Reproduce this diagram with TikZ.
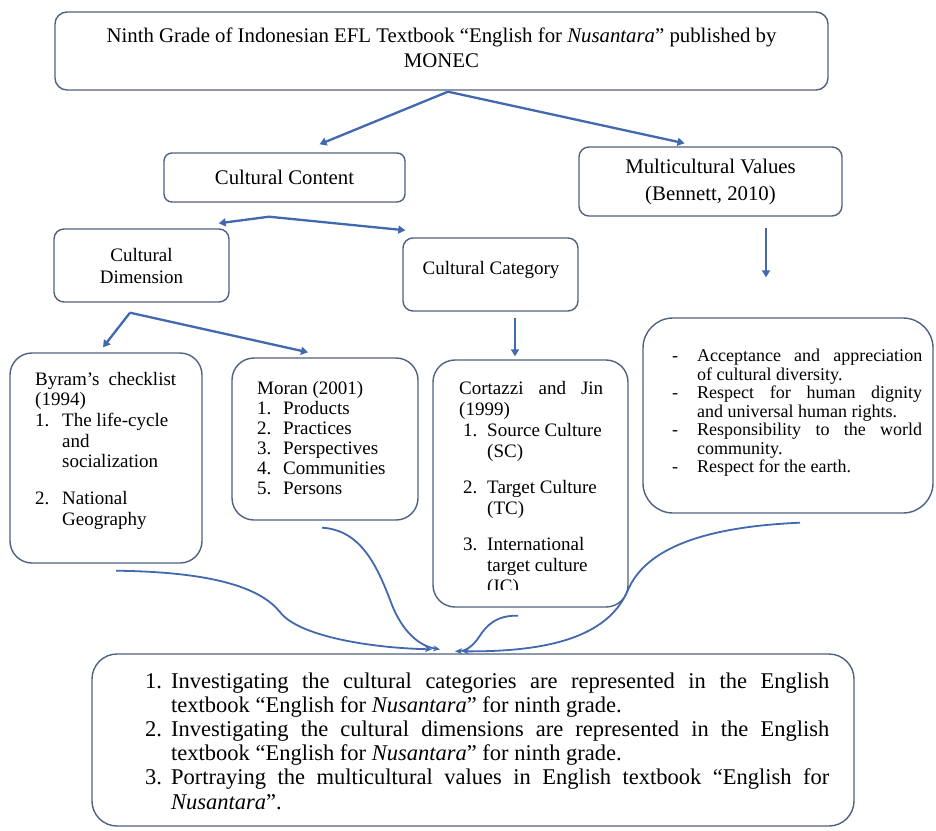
\documentclass[tikz,border=0pt]{standalone}
\usepackage{fontspec}
\setmainfont{Liberation Serif}
\usetikzlibrary{arrows.meta,calc}
\definecolor{boxc}{RGB}{80,98,130}
\definecolor{arrc}{RGB}{66,104,176}
\begin{document}
\begin{tikzpicture}[x=1pt,y=-1pt,
  rbox/.style={draw=boxc, line width=1.4pt, rounded corners=#1, inner sep=0pt},
  rbox/.default=10pt,
  arr/.style={draw=arrc, line width=2.3pt, -{Triangle[length=7pt,width=8pt]}},
  curv/.style={draw=arrc, line width=1.8pt, -{Stealth[length=7pt,width=6pt]}},
  big/.style={font=\fontsize{20.8}{25}\selectfont},
  mid/.style={font=\fontsize{19}{22}\selectfont},
  txt/.style={inner sep=0pt, anchor=base west}]
\useasboundingbox (0,0) rectangle (936,830);
\fill[white] (0,0) rectangle (936,830);

% boxes
\node[rbox=12pt, minimum width=773pt, minimum height=78pt] (top) at (441.5,51) {};
\node[big, align=center, inner sep=0pt] (toptxt) at (441.5,47.5) {Ninth Grade of Indonesian EFL Textbook “English for \textit{Nusantara}” published by\\MONEC};
\node[rbox=8pt, minimum width=241pt, minimum height=49pt, big] (cc) at (284.5,177.5) {Cultural Content};
\node[rbox=10pt, minimum width=263pt, minimum height=69pt, font=\fontsize{20.8}{27}\selectfont, align=center] (mv) at (710.5,181.5) {Multicultural Values\\(Bennett, 2010)};
\node[rbox=10pt, minimum width=175pt, minimum height=73pt, mid, align=center] (cd) at (141.5,265.5) {Cultural\\Dimension};
\node[rbox=10pt, minimum width=175pt, minimum height=73pt] (cat) at (490.5,274.5) {};
\node[mid, inner sep=0pt] (cattxt) at (491,270) {Cultural Category};

\node[rbox=22pt, minimum width=192pt, minimum height=210pt] (by) at (106,458) {};
\node[rbox=22pt, minimum width=186pt, minimum height=162pt] (mo) at (325,439) {};
\node[rbox=22pt, minimum width=195pt, minimum height=247pt] (co) at (530.5,483.5) {};
\node[rbox=30pt, minimum width=290pt, minimum height=195pt] (ml) at (788,415.5) {};
\node[rbox=25pt, minimum width=762pt, minimum height=172pt] (bt) at (473,740) {};

% texts
\node[txt] (byt) at (35,385) {\parbox[t]{170pt}{\fontsize{19}{20.7}\selectfont
\makebox[141pt][s]{Byram’s checklist}\\
(1994)\\
\makebox[27pt][l]{1.}The life-cycle\\
\hspace*{27pt}and\\
\hspace*{27pt}socialization\\[16pt]
\makebox[27pt][l]{2.}National\\
\hspace*{27pt}Geography}};

\node[txt] (mot) at (257,394.5) {\parbox[t]{170pt}{\fontsize{19}{20}\selectfont
Moran (2001)\\
\makebox[26pt][l]{1.}Products\\
\makebox[26pt][l]{2.}Practices\\
\makebox[26pt][l]{3.}Perspectives\\
\makebox[26pt][l]{4.}Communities\\
\makebox[26pt][l]{5.}Persons}};

\begin{scope}
\clip (433,360) rectangle (628,589);
\node[txt] (cot) at (459,394.5) {\parbox[t]{170pt}{\fontsize{19}{21}\selectfont
\makebox[144pt][s]{Cortazzi and Jin}\\
(1999)\\
\hspace*{4pt}\makebox[24pt][l]{1.}Source Culture\\
\hspace*{28pt}(SC)\\[15pt]
\hspace*{4pt}\makebox[24pt][l]{2.}Target Culture\\
\hspace*{28pt}(TC)\\[15pt]
\hspace*{4pt}\makebox[24pt][l]{3.}International\\
\hspace*{28pt}target culture\\
\hspace*{28pt}(IC)}};
\end{scope}

\node[txt] (mlt) at (672,361.5) {\parbox[t]{260pt}{\fontsize{18}{18.5}\selectfont
\makebox[25pt][l]{-}\makebox[225pt][s]{Acceptance and appreciation}\\
\hspace*{25pt}of cultural diversity.\\
\makebox[25pt][l]{-}\makebox[225pt][s]{Respect for human dignity}\\
\hspace*{25pt}and universal human rights.\\
\makebox[25pt][l]{-}\makebox[225pt][s]{Responsibility to the world}\\
\hspace*{25pt}community.\\
\makebox[25pt][l]{-}Respect for the earth.}};

\node[txt] (btt) at (145,688) {\parbox[t]{700pt}{\fontsize{22.5}{24.2}\selectfont
\makebox[26pt][l]{1.}\makebox[658pt][s]{Investigating the cultural categories are represented in the English}\\
\hspace*{26pt}textbook “English for \textit{Nusantara}” for ninth grade.\\
\makebox[26pt][l]{2.}\makebox[658pt][s]{Investigating the cultural dimensions are represented in the English}\\
\hspace*{26pt}textbook “English for \textit{Nusantara}” for ninth grade.\\
\makebox[26pt][l]{3.}\makebox[658pt][s]{Portraying the multicultural values in English textbook “English for}\\
\hspace*{26pt}\textit{Nusantara}”.}};

% straight arrows
\coordinate (s1) at ($(top.south)+(6.5,1)$);
\draw[arr] (s1) -- ($(cc.north)+(35,-8)$);
\draw[arr] (s1) -- ($(mv.north)+(-26,-3)$);
\coordinate (s2) at ($(cc.south)+(-15.5,14)$);
\draw[arr] (s2) -- ($(cd.north east)+(-11,-5)$);
\draw[arr] (s2) -- ($(cat.north west)+(3,-7)$);
\coordinate (s3) at ($(cd.south)+(-11.5,10)$);
\draw[arr] (s3) -- ($(by.north)+(-3,-5)$);
\draw[arr] (s3) -- ($(mo.north)+(-17,-5)$);
\coordinate (s4) at ($(cat.south)+(24.5,6)$);
\draw[arr] (s4) -- ($(co.north)+(-15.5,-3)$);
\coordinate (s5) at ($(mv.south)+(55.5,11)$);
\draw[arr] (s5) -- ($(ml.north)+(-22,-40)$);

% curved connectors
\coordinate (b1) at ($(by.south)+(10,7)$);
\coordinate (b2) at ($(mo.south)+(-3,7)$);
\coordinate (b3) at ($(co.south)+(-12.5,8)$);
\coordinate (b4) at ($(ml.south)+(12,9)$);
\coordinate (e1) at ($(bt.north)+(-41,-4)$);
\coordinate (e2) at ($(bt.north)+(-33,-4)$);
\coordinate (e3) at ($(bt.north)+(-18,-2)$);
\coordinate (e4) at ($(bt.north)+(-11,-2)$);
\draw[curv] (b1) .. controls (220,572) and (262,590) .. (280,612) .. controls (298,636) and (370,648) .. (e1);
\draw[curv] (b2) .. controls (362,530) and (378,568) .. (392,605) .. controls (402,630) and (418,646) .. (e2);
\draw[curv] (b3) .. controls (496,615) and (486,626) .. (479,637) .. controls (473,646) and (466,651) .. (e3);
\draw[curv] (b4) .. controls (700,527) and (645,550) .. (628,590) .. controls (610,632) and (560,652) .. (e4);
\end{tikzpicture}
\end{document}
